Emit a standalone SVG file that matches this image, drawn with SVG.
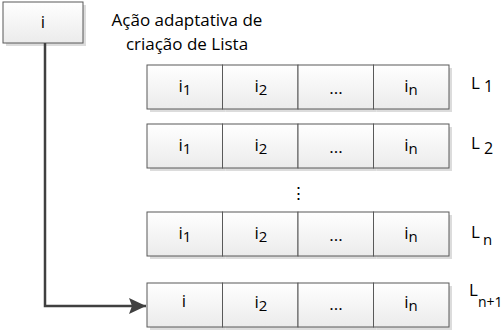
<svg xmlns="http://www.w3.org/2000/svg" width="504" height="331" viewBox="0 0 504 331">
<style>
.box{fill:url(#g);stroke:#595959;stroke-width:1}
.sh{fill:#dcdcdc}
text{font-family:"Open Sans","Noto Sans",sans-serif;fill:#000}
.c{font-size:17px;text-anchor:middle}
.s{font-size:15px}
.t{font-size:17px;text-anchor:middle}
.l{font-size:17px}
.conn{fill:none;stroke:#404040;stroke-width:2.5}
</style>
<defs>
<linearGradient id="g" x1="0" y1="0" x2="0" y2="1">
<stop offset="0" stop-color="#ffffff"/>
<stop offset="1" stop-color="#ebebeb"/>
</linearGradient>
<marker id="arr" markerWidth="17" markerHeight="16" refX="17" refY="8" orient="auto" markerUnits="userSpaceOnUse" viewBox="0 0 17 16">
<path d="M0,0 L17,8 L0,16 L3,8 Z" fill="#404040"/>
</marker>
<g id="cellshape">
<rect class="sh" x="3" y="3" width="75.5" height="44"/>
<rect class="box" x="0" y="0" width="75.5" height="44"/>
</g>
</defs>

<g id="node-i">
<rect class="sh" x="6" y="5" width="80" height="41"/>
<rect class="box" x="3" y="2" width="80" height="41"/>
<text class="c" x="43" y="28">i</text>
</g>

<g id="title">
<text class="t" x="187" y="26">Ação adaptativa de</text>
<text class="t" x="187" y="50">criação de Lista</text>
</g>

<g id="connectors">
<path class="conn" d="M45,43 V306 H146" marker-end="url(#arr)"/>
</g>

<g id="row1">
<use href="#cellshape" x="147" y="65"/><use href="#cellshape" x="222.5" y="65"/><use href="#cellshape" x="298" y="65"/><use href="#cellshape" x="373.5" y="65"/>
<text class="c" x="185" y="92">i<tspan class="s" dy="3">1</tspan></text>
<text class="c" x="261" y="92">i<tspan class="s" dy="3">2</tspan></text>
<text class="c" x="336" y="94">...</text>
<text class="c" x="411" y="92">i<tspan class="s" dy="3">n</tspan></text>
<text class="l" x="471" y="89">L<tspan dx="4" dy="3" font-size="16">1</tspan></text>
</g>

<g id="row2">
<use href="#cellshape" x="147" y="124"/><use href="#cellshape" x="222.5" y="124"/><use href="#cellshape" x="298" y="124"/><use href="#cellshape" x="373.5" y="124"/>
<text class="c" x="185" y="151">i<tspan class="s" dy="3">1</tspan></text>
<text class="c" x="261" y="151">i<tspan class="s" dy="3">2</tspan></text>
<text class="c" x="336" y="153">...</text>
<text class="c" x="411" y="151">i<tspan class="s" dy="3">n</tspan></text>
<text class="l" x="471" y="149">L<tspan dx="4" dy="5" font-size="16">2</tspan></text>
</g>

<text class="c" x="298" y="199">⋮</text>

<g id="rown">
<use href="#cellshape" x="147" y="212"/><use href="#cellshape" x="222.5" y="212"/><use href="#cellshape" x="298" y="212"/><use href="#cellshape" x="373.5" y="212"/>
<text class="c" x="185" y="239">i<tspan class="s" dy="3">1</tspan></text>
<text class="c" x="261" y="239">i<tspan class="s" dy="3">2</tspan></text>
<text class="c" x="336" y="241">...</text>
<text class="c" x="411" y="239">i<tspan class="s" dy="3">n</tspan></text>
<text class="l" x="471" y="238">L<tspan dx="3" dy="7" font-size="15">n</tspan></text>
</g>

<g id="rown1">
<use href="#cellshape" x="147" y="283"/><use href="#cellshape" x="222.5" y="283"/><use href="#cellshape" x="298" y="283"/><use href="#cellshape" x="373.5" y="283"/>
<text class="c" x="184" y="307">i</text>
<text class="c" x="261" y="308">i<tspan class="s" dy="3">2</tspan></text>
<text class="c" x="336" y="310">...</text>
<text class="c" x="411" y="308">i<tspan class="s" dy="3">n</tspan></text>
<text class="l" x="469" y="296">L<tspan dx="0" dy="11" font-size="14">n+1</tspan></text>
</g>
</svg>
